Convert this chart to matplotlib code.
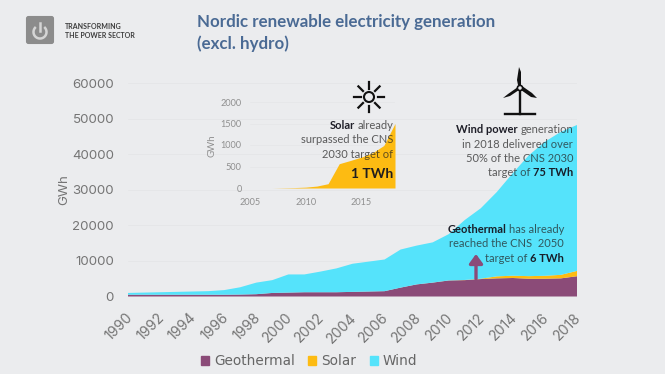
import matplotlib
matplotlib.use('Agg')
import matplotlib.pyplot as plt
from matplotlib.patches import FancyBboxPatch, Arc, Circle, Polygon
from matplotlib.transforms import ScaledTranslation
import numpy as np

# values (GWh)
years = list(range(1990, 2019))
geothermal = [500, 500, 500, 500, 500, 500, 500, 550, 650, 1000, 1100, 1200, 1200, 1200, 1300,
              1400, 1500, 2500, 3400, 3900, 4500, 4600, 4900, 5100, 5200, 5000, 5000, 5100, 5700]
solar = [0, 0, 0, 0, 0, 0, 0, 0, 0, 0, 0, 0, 0, 0, 0,
         0, 0, 0, 5, 10, 20, 45, 100, 565, 640, 720, 820, 990, 1500]
wind = [500, 600, 700, 800, 900, 1000, 1300, 2050, 3250, 3600, 5100, 5000, 5800, 6700, 7900,
        8400, 8900, 10700, 10900, 11300, 13000, 16850, 19800, 23700, 28860, 33980, 37680, 40210, 41000]

inset_years = years[15:]
inset_solar = solar[15:]

main_yticks = [0, 10000, 20000, 30000, 40000, 50000, 60000]
main_xticks = years[::2]
inset_yticks = [0, 500, 1000, 1500, 2000]
inset_xticks = [2005, 2010, 2015]

BG = '#ebecee'
GEO = '#8b4b78'
SUN = '#fdbb12'
WIND = '#55e3fb'
W, H = 665, 374


def box(x0, x1, ytop, ybot):
    return [x0 / W, 1 - ybot / H, (x1 - x0) / W, (ybot - ytop) / H]


fig = plt.figure(figsize=(6.65, 3.74), dpi=100, facecolor=BG)

# main chart
ax = fig.add_axes(box(128, 577, 83, 296.5))
ax.set_facecolor('none')
polys = ax.stackplot(years, geothermal, solar, wind, colors=[GEO, SUN, WIND],
                     labels=['Geothermal', 'Solar', 'Wind'], lw=0)
ax.set_xlim(1990, 2018)
ax.set_ylim(0, 60000)
ax.set_yticks(main_yticks)
ax.set_xticks(main_xticks)
ax.set_xticklabels(main_xticks, rotation=45, ha='right', rotation_mode='anchor',
                   fontsize=10.2, color='#757575', family='Inter')
ax.tick_params(axis='x', length=0, pad=10)
ax.tick_params(axis='y', length=0, pad=10, labelsize=9.6, labelcolor='#757575')
shift = ScaledTranslation(-3 / 100, 0, fig.dpi_scale_trans)
for t in ax.get_xticklabels():
    t.set_transform(t.get_transform() + shift)
for t in ax.get_yticklabels():
    t.set_family('Inter')
ax.grid(axis='y', color='#e5e6e8', lw=0.6)
ax.set_axisbelow(True)
for s in ax.spines.values():
    s.set_visible(False)
ax.set_ylabel('GWh', fontsize=9.6, color='#757575', family='Inter')
ax.yaxis.set_label_coords(-0.129, 0.5)

handles = [plt.Rectangle((0, 0), 1, 1, color=c) for c in (GEO, SUN, WIND)]
fig.legend(handles, ['Geothermal', 'Solar', 'Wind'], loc='center', ncol=3,
           bbox_to_anchor=(309 / W, 1 - 361 / H), frameon=False,
           labelcolor='#666666', handlelength=0.6, handleheight=0.6,
           handletextpad=0.35, columnspacing=1.0, prop={'family': 'DejaVu Sans', 'size': 9.8})

# solar inset
axi = fig.add_axes(box(250, 395, 102, 188))
axi.set_facecolor('none')
axi.fill_between(inset_years, inset_solar, color=SUN, lw=0)
axi.set_xlim(2005, 2018)
axi.set_ylim(0, 2000)
axi.set_yticks(inset_yticks)
axi.set_xticks(inset_xticks)
axi.tick_params(length=0, labelsize=6.6, labelcolor='#8f8f8f')
axi.tick_params(axis='x', pad=7)
axi.tick_params(axis='y', pad=6)
for t in axi.get_xticklabels() + axi.get_yticklabels():
    t.set_family('Lato')
axi.grid(axis='y', color='#e5e6e8', lw=0.5)
axi.set_axisbelow(True)
for s in axi.spines.values():
    s.set_visible(False)
axi.set_ylabel('GWh', fontsize=7, color='#8f8f8f', family='Lato')
axi.yaxis.set_label_coords(-0.234, 0.49)

# overlay in pixel coordinates for icons and notes
ov = fig.add_axes([0, 0, 1, 1])
ov.set_xlim(0, W)
ov.set_ylim(H, 0)
ov.axis('off')
ov.patch.set_alpha(0)

# header
ov.add_patch(FancyBboxPatch((27, 17), 26, 26, boxstyle='round,pad=0,rounding_size=1.5',
                            mutation_aspect=1, fc='#8c8c8c', ec='#8c8c8c', lw=1.5))
ov.add_patch(Arc((40, 32), 13, 13, theta1=-50, theta2=230, color='#d5d5d5', lw=1.8))
ov.plot([40, 40], [23, 31], color='#d5d5d5', lw=1.8)
ov.text(65, 26, 'TRANSFORMING', fontsize=5, fontweight='bold', color='#3c3c3c', va='center', family='Lato')
ov.text(65, 35, 'THE POWER SECTOR', fontsize=5, fontweight='bold', color='#3c3c3c', va='center', family='Lato')
ov.text(197, 22, 'Nordic renewable electricity generation', fontsize=12.2, fontweight='bold',
        color='#4a6a94', va='center', family='Lato')
ov.text(197, 44, '(excl. hydro)', fontsize=12.2, fontweight='bold',
        color='#4a6a94', va='center', family='Lato')

# sun icon
sx, sy = 369, 97
ov.add_patch(Circle((sx, sy), 5, fc='none', ec='#111111', lw=1.5))
for a in np.deg2rad(np.arange(0, 360, 45)):
    ov.plot([sx + 8.5 * np.cos(a), sx + 15 * np.cos(a)], [sy + 8.5 * np.sin(a), sy + 15 * np.sin(a)],
            color='#111111', lw=1.6)

# turbine icon
ov.plot([520, 520], [90, 114], color='#111111', lw=1.7)
ov.plot([505, 535], [114, 114], color='#111111', lw=1.7)
ov.add_patch(Polygon([(519, 67), (521, 72), (521, 85), (518, 85), (517, 80)], fc='#111111', ec='none'))
ov.add_patch(Polygon([(503, 98), (508, 94), (518, 87), (519, 90), (510, 96)], fc='#111111', ec='none'))
ov.add_patch(Polygon([(537, 98), (532, 93), (522, 86), (521, 90), (531, 97)], fc='#111111', ec='none'))
ov.add_patch(Circle((520, 88), 2.6, fc=BG, ec='#111111', lw=1.2, zorder=5))


def rich_line(x, y, parts, size=8):
    # parts are (text, bold), drawn right to left from x
    rend = fig.canvas.get_renderer()
    for txt, bold in reversed(parts):
        t = ov.text(x, y, txt, ha='right', va='center', fontsize=size, family='Lato',
                    fontweight='bold' if bold else 'normal',
                    color='#14141e' if bold else '#222222', alpha=0.95 if bold else 0.72)
        x -= t.get_window_extent(rend).width + 2.5


rich_line(393, 125, [('Solar', True), ('already', False)])
rich_line(393, 139, [('surpassed the CNS', False)])
rich_line(393, 154, [('2030 target of', False)])
rich_line(393, 174, [('1 TWh', True)], size=10)

rich_line(573, 129, [('Wind power', True), ('generation', False)])
rich_line(573, 144, [('in 2018 delivered over', False)])
rich_line(573, 158, [('50% of the CNS 2030', False)])
rich_line(573, 172, [('target of', False), ('75 TWh', True)])

rich_line(564, 229, [('Geothermal', True), ('has already', False)])
rich_line(564, 243, [('reached the CNS  2050', False)])
rich_line(564, 258, [('target of', False), ('6 TWh', True)])

ov.annotate('', xy=(476, 254), xytext=(476, 279),
            arrowprops=dict(arrowstyle='-|>,head_width=0.4,head_length=0.55', color=GEO, lw=2.4,
                            shrinkA=0, shrinkB=0))

fig.savefig('out.png', dpi=100, facecolor=BG)
